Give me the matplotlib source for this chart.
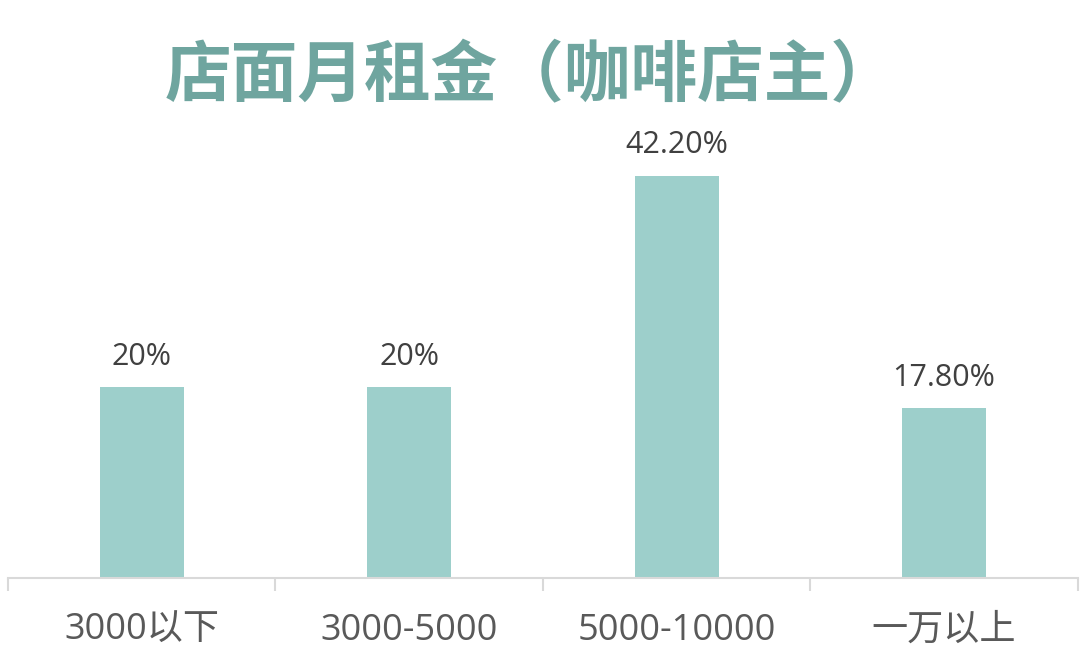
import matplotlib.pyplot as plt
import numpy as np

plt.rcParams['font.family'] = ['Open Sans', 'Noto Sans CJK SC', 'DejaVu Sans']

# 数据
categories = ['3000以下', '3000-5000', '5000-10000', '一万以上']
values = [20.0, 20.0, 42.2, 17.8]
value_labels = ['20%', '20%', '42.20%', '17.80%']

bar_color = '#9DCFCB'
title_color = '#6FA59F'
axis_color = '#D9D9D9'

fig = plt.figure(figsize=(10.8, 6.64), dpi=100)
ax = fig.add_axes([0.0074, 0.1295, 0.9906, 0.718])

x = np.arange(len(categories))
ax.bar(x, values, width=0.314, color=bar_color)

for xi, v, lab in zip(x, values, value_labels):
    ax.annotate(lab, (xi, v), xytext=(0, 22), textcoords='offset points',
                ha='center', va='center', fontsize=22, color='#404040')

ax.set_xlim(-0.5, len(categories) - 0.5)
ax.set_ylim(0, 50)

# 分隔刻度在类别之间
ax.set_xticks(np.arange(-0.5, len(categories), 1.0))
ax.set_xticklabels([])
ax.set_xticks(x, minor=True)
ax.set_xticklabels(categories, minor=True, fontsize=26, color='#595959')
ax.tick_params(axis='x', which='major', length=9, width=1.5, color=axis_color)
ax.tick_params(axis='x', which='minor', length=0, pad=25)
ax.set_yticks([])

for s in ['top', 'right', 'left']:
    ax.spines[s].set_visible(False)
ax.spines['bottom'].set_color(axis_color)
ax.spines['bottom'].set_linewidth(1.5)

fig.text(0.492, 0.885, '店面月租金（咖啡店主）', ha='center', va='center',
         fontsize=48, fontweight='bold', color=title_color,
         family=['Noto Sans CJK SC', 'DejaVu Sans'])

fig.savefig('out.png', dpi=100)
